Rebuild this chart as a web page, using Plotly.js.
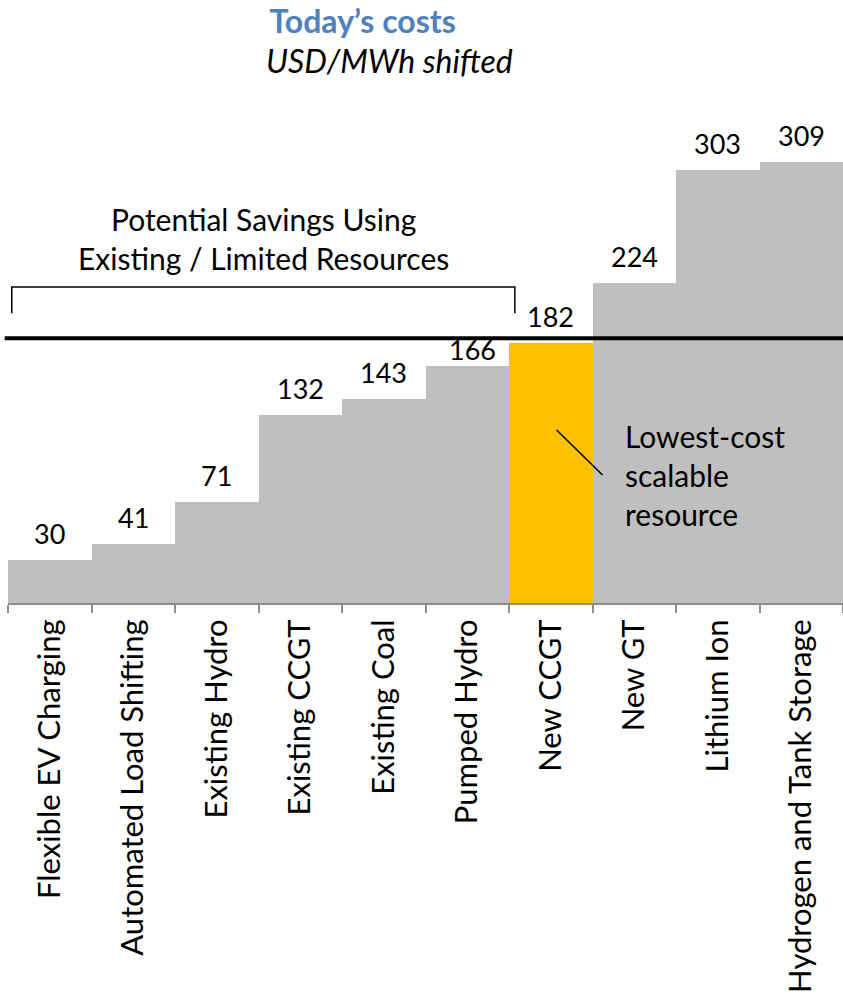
<!DOCTYPE html>
<html>
<head>
<meta charset="utf-8">
<script src="https://cdn.plot.ly/plotly-3.0.1.min.js"></script>
<style>html,body{margin:0;padding:0;background:#fff;}#chart{width:843px;height:1001px;}</style>
</head>
<body>
<div id="chart"></div>
<script>
const categories = ["Flexible EV Charging","Automated Load Shifting","Existing Hydro","Existing CCGT","Existing Coal","Pumped Hydro","New CCGT","New GT","Lithium Ion","Hydrogen and Tank Storage"];
const costs = [30, 41, 71, 132, 143, 166, 182, 224, 303, 309];
const highlighted = "New CCGT";
const thresholdLevel = 185.5;
const titleText = "Today’s costs";
const subtitleText = "USD/MWh shifted";
const bracketText = "Potential Savings Using<br>Existing / Limited Resources";
const calloutText = "Lowest-cost<br>scalable<br>resource";

const FONT = "Lato, 'Open Sans', sans-serif";
const colors = categories.map(c => c === highlighted ? "#FFC000" : "#BFBFBF");

const Y_MAX = 400;
const PLOT_H = 1001 - 32 - 398;
const pxPerUnit = PLOT_H / Y_MAX;
const LABEL_SIZE = 27;

// labels whose bar sits clearly below the threshold line but whose label would cross it
// are tucked just above their bar, under the line
const valueLabels = categories.map((c, i) => {
  const v = costs[i];
  const normalShift = 8;
  const gapPx = (thresholdLevel - v) * pxPerUnit;
  const labelTopPx = normalShift + LABEL_SIZE * 1.2;
  const squeezed = gapPx > 10 && gapPx < labelTopPx;
  return {
    x: c, y: v, xref: "x", yref: "y",
    text: String(v), showarrow: false,
    yanchor: "bottom", yshift: squeezed ? -2 : normalShift,
    xshift: squeezed ? 5 : 0,
    font: {family: FONT, size: LABEL_SIZE, color: "#000"}
  };
});

const layout = {
  width: 843, height: 1001,
  margin: {l: 8, r: 0, t: 32, b: 398},
  paper_bgcolor: "#fff", plot_bgcolor: "#fff",
  bargap: 0,
  showlegend: false,
  title: {
    text: "<b>" + titleText + "</b>",
    x: 358/843, xanchor: "center", xref: "paper",
    y: 1 - 22/1001, yref: "container", yanchor: "middle",
    font: {family: FONT, size: 32, color: "#4F81BD"}
  },
  xaxis: {
    type: "category",
    range: [-0.5, categories.length - 0.5],
    showline: true, linecolor: "#8C8C8C", linewidth: 2,
    ticks: "outside", tickson: "boundaries", ticklen: 8, tickcolor: "#8C8C8C", tickwidth: 2,
    tickangle: -90,
    tickfont: {family: FONT, size: 31, color: "#000"},
    ticklabelstandoff: 2,
    showgrid: false, zeroline: false, fixedrange: true
  },
  yaxis: {
    range: [0, Y_MAX], visible: false, showgrid: false, zeroline: false, fixedrange: true
  },
  shapes: [
    {type: "line", xref: "paper", yref: "y", x0: -0.004, x1: 1, y0: thresholdLevel, y1: thresholdLevel,
     line: {color: "#000", width: 4}},
    {type: "path", xref: "x", yref: "y",
     path: "M -0.455 203 L -0.455 221.4 L 5.57 221.4 L 5.57 203",
     line: {color: "#000", width: 1.5}},
    {type: "line", xref: "x", yref: "y", x0: 6.07, y0: 121.2, x1: 6.62, y1: 89.7,
     line: {color: "#000", width: 1.5}}
  ],
  annotations: valueLabels.concat([
    {xref: "paper", yref: "paper", x: 385/843, y: (603 - 61) / PLOT_H, xanchor: "center", yanchor: "middle",
     text: "<i>" + subtitleText + "</i>", showarrow: false,
     font: {family: FONT, size: 32, color: "#000"}},
    {xref: "x", yref: "y", x: 2.56, y: 255, xanchor: "center", yanchor: "middle",
     text: bracketText, showarrow: false, align: "center",
     font: {family: FONT, size: 30, color: "#000"}},
    {xref: "x", yref: "y", x: 6.87, y: 90, xanchor: "left", yanchor: "middle",
     text: calloutText, showarrow: false, align: "left",
     font: {family: FONT, size: 30, color: "#000"}}
  ])
};

const trace = {
  type: "bar", x: categories, y: costs,
  marker: {color: colors, line: {width: 0}},
  hoverinfo: "skip"
};

Plotly.newPlot("chart", [trace], layout, {staticPlot: true, displayModeBar: false});
</script>
</body>
</html>
